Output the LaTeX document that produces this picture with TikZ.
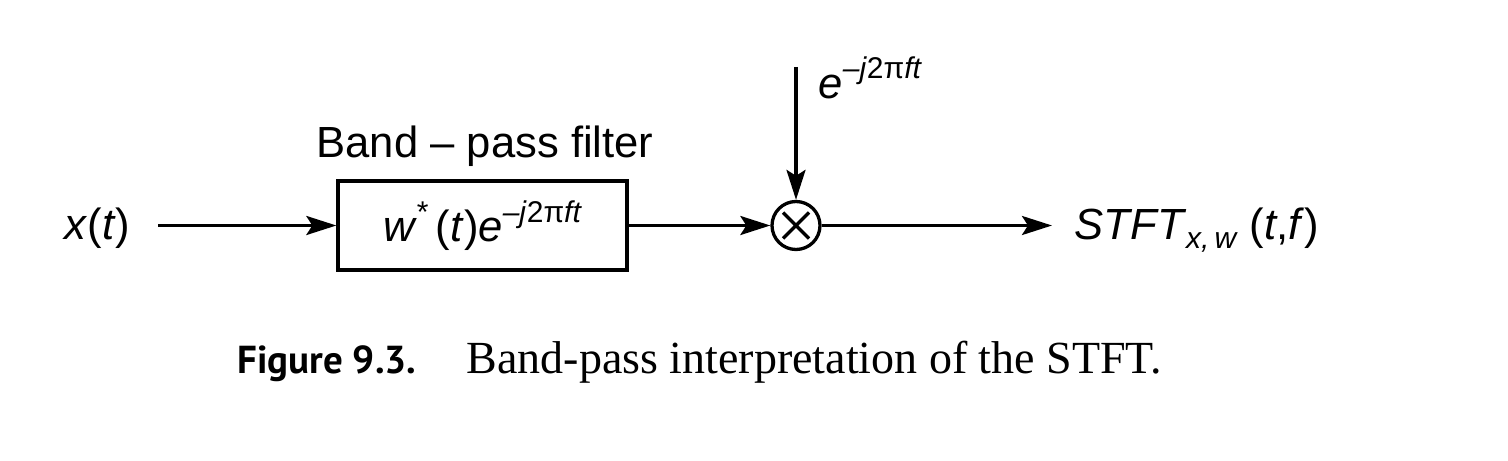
\documentclass[tikz,border=0pt]{standalone}
\usepackage{fontspec}
\setmainfont{Liberation Sans}
\newfontfamily\capserif{Liberation Serif}
\newfontfamily\capsans{PT Sans}
\usetikzlibrary{arrows.meta}
\newcommand\sups[1]{\raisebox{0.45em}{\fontsize{15}{18}\selectfont #1}}
\newcommand\subs[1]{\raisebox{-0.22em}{\fontsize{15}{18}\selectfont #1}}
\begin{document}
\begin{tikzpicture}[x=0.5pt,y=-0.5pt,
  line width=1.65pt,
  arr/.style={-{Stealth[length=15pt,width=9.5pt,inset=3pt]}},
  lbl/.style={inner sep=0pt,font=\fontsize{21.8}{26}\selectfont},
  blk/.style={draw,minimum width=144.5pt,minimum height=44.5pt,inner sep=0pt,font=\fontsize{21.8}{26}\selectfont},
  mult/.style={draw,circle,minimum size=24pt,inner sep=0pt}]
\useasboundingbox (0,0) rectangle (1508,460);
\node[lbl,anchor=base east] (xt) at (132,239) {\textit{x}(\textit{t})};
\node[blk] (bpf) at (482.5,225.5) {\textit{w}\sups{*}\,(\textit{t})\textit{e}\sups{\textit{–j}2π\textit{ft}}\hspace{6pt}};
\node[lbl,anchor=base west] (bpftitle) at (315,157) {Band – pass filter};
\node[mult] (m) at (796,225.5) {};
\draw ([shift={(-13,-13)}]m.center) -- ([shift={(13,13)}]m.center)
      ([shift={(-13,13)}]m.center) -- ([shift={(13,-13)}]m.center);
\coordinate (top) at (796,67);
\node[lbl,anchor=base west] (osc) at (817,98) {\textit{e}\sups{\textit{–j}2π\textit{ft}}};
\node[lbl,anchor=base west] (out) at (1073,239) {\textit{STFT}\subs{\textit{x,\,w}}\ (\textit{t},\textit{f})};
\draw[arr,shorten <=13pt] (xt.east |- bpf.west) -- (bpf.west);
\draw[arr] (bpf.east |- m.west) -- (m.west);
\draw[arr] (top) -- (m.north);
\draw[arr,shorten >=10.5pt] (m.east) -- (m.east -| out.west);
\node[inner sep=0pt,anchor=base east,font=\capsans\bfseries\fontsize{19.5}{24}\selectfont] (fig) at (418,373) {Figure 9.3.};
\node[inner sep=0pt,anchor=base west,font=\capserif\fontsize{23}{28}\selectfont] (cap) at (465,373) {Band-pass interpretation of the STFT.};
\end{tikzpicture}
\end{document}
